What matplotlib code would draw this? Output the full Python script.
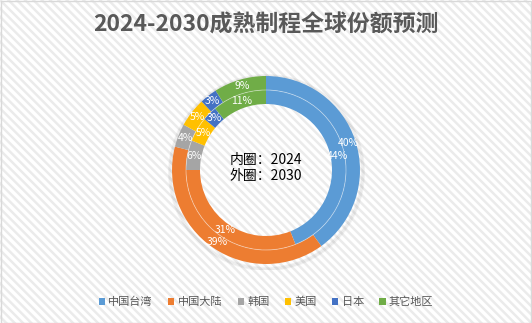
import matplotlib
matplotlib.use("Agg")
import matplotlib.pyplot as plt
from matplotlib.patches import Rectangle, Patch, Circle

plt.rcParams['font.family'] = ['Noto Sans CJK SC', 'DejaVu Sans']
plt.rcParams['hatch.linewidth'] = 1.8
plt.rcParams['hatch.color'] = '#ebebeb'

regions = ['中国台湾', '中国大陆', '韩国', '美国', '日本', '其它地区']
share_2024 = [44, 31, 6, 5, 3, 11]
share_2030 = [40, 39, 4, 5, 3, 9]
colors = ['#5B9BD5', '#ED7D31', '#A5A5A5', '#FFC000', '#4472C4', '#70AD47']

W, H = 532, 323
fig = plt.figure(figsize=(W / 100, H / 100), dpi=100)
fig.patch.set_facecolor('white')

# striped background + border
fig.patches.append(Rectangle((0, 0), 1, 1, transform=fig.transFigure,
                             facecolor='white', edgecolor='#ebebeb',
                             hatch='\\\\\\\\', linewidth=0, zorder=-10))
fig.patches.append(Rectangle((0.5 / W, 0.5 / H), 1 - 1.5 / W, 1 - 1.5 / H,
                             transform=fig.transFigure, fill=False,
                             edgecolor='#d9d9d9', linewidth=1, zorder=10))

# donut centred at (266, 170) px, outer radius 94 px
cx, cy, half = 266, 170, 100
ax = fig.add_axes([(cx - half) / W, (H - cy - half) / H, 2 * half / W, 2 * half / H])
ax.set_xlim(-1, 1)
ax.set_ylim(-1, 1)
ax.set_aspect('equal')
ax.axis('off')

# soft shadow under the donut
for i, a in enumerate([0.05, 0.05, 0.05]):
    ax.add_patch(Circle((0.005, -0.025), 0.94 + 0.012 * (i + 1), facecolor='none',
                        edgecolor='black', alpha=a, linewidth=1.2, zorder=0))

txt = dict(color='white', fontsize=7.5)
ax.pie(share_2030, colors=colors, radius=0.94, startangle=90, counterclock=False,
       wedgeprops=dict(width=0.14, edgecolor='none', linewidth=0),
       autopct='%d%%', pctdistance=0.87 / 0.94, textprops=txt)
ax.pie(share_2024, colors=colors, radius=0.80, startangle=90, counterclock=False,
       wedgeprops=dict(width=0.14, edgecolor='none', linewidth=0),
       autopct='%d%%', pctdistance=0.73 / 0.80, textprops=txt)
ax.add_patch(Circle((0, 0), 0.80, facecolor='none', edgecolor='white',
                    alpha=0.45, linewidth=0.6, zorder=5))
ax.set_xlim(-1, 1)
ax.set_ylim(-1, 1)

ax.text(0, 0.02, '内圈：2024\n外圈：2030', ha='center', va='center',
        fontsize=10, color='black', linespacing=1.2)

fig.text(0.5, 1 - 25 / H, '2024-2030成熟制程全球份额预测', ha='center', va='center',
         fontsize=16.5, fontweight='bold', color='#595959')

handles = [Patch(facecolor=c, edgecolor='none') for c in colors]
fig.legend(handles, regions, loc='center', bbox_to_anchor=(0.5, 1 - 302 / H),
           ncol=6, frameon=False, fontsize=8, labelcolor='#595959',
           handlelength=0.55, handleheight=0.55, handletextpad=0.3, columnspacing=1.4)

fig.savefig('out.png', dpi=100)
